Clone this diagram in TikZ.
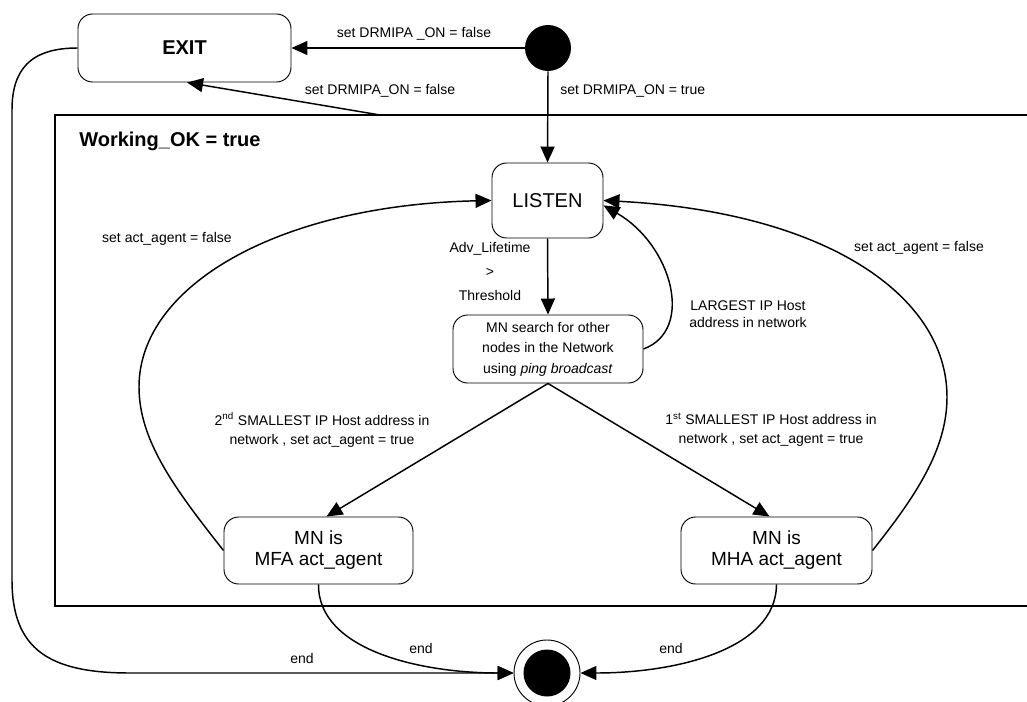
\documentclass[tikz,border=0pt]{standalone}
\usepackage{fontspec}
\setmainfont{Liberation Sans}
\usetikzlibrary{arrows.meta,calc}
\begin{document}
\begin{tikzpicture}[x=0.75pt,y=-0.75pt,
  state/.style={draw, rounded corners=11pt, line width=0.7pt, align=center, inner sep=0pt},
  bigfont/.style={font=\fontsize{15}{18}\selectfont},
  lbl/.style={font=\fontsize{10.5}{13}\selectfont, align=center, inner sep=0pt},
  conn/.style={line width=1.1pt, -{Triangle[length=12pt,width=10.5pt]}},
  frameline/.style={line width=1.2pt},
]
\clip (0,0) rectangle (1027,702);
% states
\node[state, font=\bfseries\fontsize{15}{18}\selectfont, minimum width=159.75pt, minimum height=51pt] (exit) at (184.5,48) {EXIT};
\node[circle, fill=black, inner sep=0pt, minimum size=34.5pt] (init) at (548,48) {};
\node[state, bigfont, minimum width=83.25pt, minimum height=56.25pt] (listen) at (547.5,200.5) {LISTEN};
\node[state, font=\fontsize{10.5}{15.4}\selectfont, minimum width=142.5pt, minimum height=51pt] (search) at (548,349) {MN search for other\\nodes in the Network\\using \textit{ping broadcast}};
\node[state, font=\fontsize{14.25}{15.75}\selectfont, minimum width=141.75pt, minimum height=50.25pt] (mfa) at (318.5,550.5) {MN is\\MFA act\_agent};
\node[state, font=\fontsize{14.25}{15.75}\selectfont, minimum width=143.25pt, minimum height=50.25pt] (mha) at (776.5,550.5) {MN is\\MHA act\_agent};
\node[circle, draw, line width=0.7pt, fill=white, inner sep=0pt, minimum size=49.5pt] (final) at (547,673) {};
\node[circle, fill=black, inner sep=0pt, minimum size=35.25pt] (finalin) at (final.center) {};
% frame
\draw[frameline] (1030,115) -- (55,115) -- (55,606) -- (1030,606);
\coordinate (ftop) at (380,115);
\node[anchor=base west, inner sep=0pt, font=\bfseries\fontsize{15}{18}\selectfont] (wok) at (79,147) {Working\_OK = true};
% connectors
\draw[conn] (init.west) -- (exit.east);
\node[lbl, anchor=base] (l1) at (414,38) {set DRMIPA \_ON = false};
\draw[conn] (ftop) -- ($(exit.south)+(2.5,0)$);
\node[lbl, anchor=base] (l2) at (380,95) {set DRMIPA\_ON = false};
\draw[conn] (init.south) -- (listen.north);
\node[lbl, anchor=base west] (l3) at (560,95) {set DRMIPA\_ON = true};
\draw[conn] (listen.south) -- (search.north);
\node[lbl, font=\fontsize{10.5}{18}\selectfont] (l4) at (490,271) {Adv\_Lifetime\\>\\Threshold};
\draw[conn] (search.east) .. controls (695,330) and (672,245) .. (listen.-5);
\node[lbl] (l5) at (748,314) {LARGEST IP Host\\address in network};
\draw[conn] (search.south) -- ($(mfa.north)+(8,0)$);
\node[lbl, font=\fontsize{10.5}{14.25}\selectfont] (l6) at (322,430) {2\textsuperscript{nd} SMALLEST IP Host address in\\network , set act\_agent = true};
\draw[conn] (search.south) -- ($(mha.north)+(-7,0)$);
\node[lbl, font=\fontsize{10.5}{14.25}\selectfont] (l7) at (771,430) {1\textsuperscript{st} SMALLEST IP Host address in\\network , set act\_agent = true};
\coordinate (lbend) at (139,387);
\coordinate (rbend) at (947,397);
\draw[conn] (mfa.west) .. controls (174,488) and (139,440) .. (lbend) .. controls (139,285) and (280,205) .. (listen.west);
\node[lbl, anchor=base] (l8) at (167,243) {set act\_agent = false};
\draw[conn] (mha.east) .. controls (915,497) and (947,450) .. (rbend) .. controls (947,295) and (825,212) .. (listen.east);
\node[lbl, anchor=base] (l9) at (919,252) {set act\_agent = false};
\draw[conn] (mfa.south) .. controls (318,650) and (420,673) .. (final.west);
\node[lbl, anchor=base] (l10) at (421,653) {end};
\draw[conn] (mha.south) .. controls (776,650) and (675,673) .. (final.east);
\node[lbl, anchor=base] (l11) at (671,653) {end};
\coordinate (ltop) at (12,110);
\coordinate (lbot) at (12,580);
\draw[conn] (exit.west) .. controls (30,48) and (12,70) .. (ltop) -- (lbot) .. controls (12,650) and (50,673) .. (130,673) -- (final.west);
\node[lbl, anchor=base] (l12) at (302,663) {end};
\end{tikzpicture}
\end{document}
